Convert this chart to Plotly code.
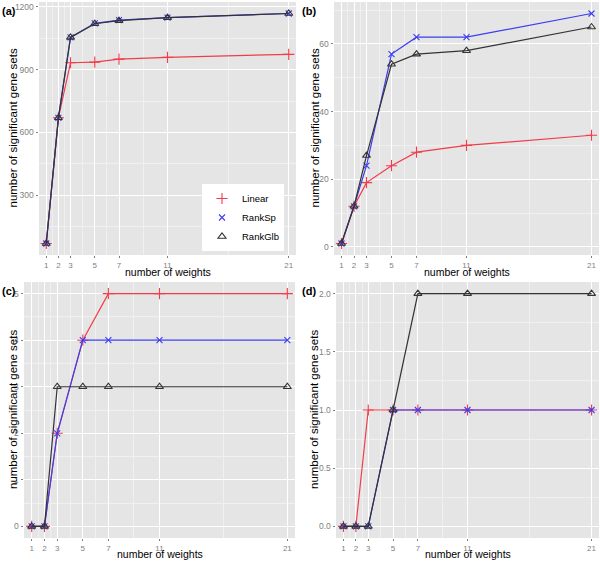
import plotly.graph_objects as go

# number of weights (x axis, shared by all panels)
weights = [1, 2, 3, 5, 7, 11, 21]

# panel (a)
a_linear = [70, 670, 933, 936, 950, 959, 973]
a_ranksp = [70, 670, 1054, 1121, 1136, 1148, 1168]
a_rankglb = [70, 670, 1054, 1119, 1134, 1148, 1168]
a_ticks = [300, 600, 900, 1200]

# panel (b)
b_linear = [1, 12, 19, 24, 28, 30, 33]
b_ranksp = [1, 12, 24, 57, 62, 62, 69]
b_rankglb = [1, 12, 27, 54, 57, 58, 65]
b_ticks = [0, 20, 40, 60]

# panel (c)
c_linear = [0, 0, 2, 4, 5, 5, 5]
c_ranksp = [0, 0, 2, 4, 4, 4, 4]
c_rankglb = [0, 0, 3, 3, 3, 3, 3]
c_ticks = [0, 1, 2, 3, 4, 5]

# panel (d)
d_linear = [0, 0, 1, 1, 1, 1, 1]
d_ranksp = [0, 0, 0, 1, 1, 1, 1]
d_rankglb = [0, 0, 0, 1, 2, 2, 2]
d_ticks = [0, 0.5, 1.0, 1.5, 2.0]

series_names = ["Linear", "RankSp", "RankGlb"]
panel_labels = ["(a)", "(b)", "(c)", "(d)"]

W, H = 600, 561
FONT = "Liberation Sans, Arial, Helvetica, sans-serif"
RED, BLUE, BLACK = "#F23C4A", "#3D3DF2", "#333333"
styles = [
    dict(color=RED, symbol="cross-thin-open", size=8),
    dict(color=BLUE, symbol="x-thin-open", size=6),
    dict(color=BLACK, symbol="triangle-up-open", size=7),
]


def xp(x):
    return min(max(x / W, 0), 1)


def yp(y):
    return min(max(1 - y / H, 0), 1)


panels = [
    dict(data=[a_linear, a_ranksp, a_rankglb], ticks=a_ticks, fmt="d",
         px=(39, 296), py=(2, 255), ytx=12),
    dict(data=[b_linear, b_ranksp, b_rankglb], ticks=b_ticks, fmt="d",
         px=(334, 599), py=(2, 255), ytx=314),
    dict(data=[c_linear, c_ranksp, c_rankglb], ticks=c_ticks, fmt="d",
         px=(24, 295), py=(282, 538), ytx=12),
    dict(data=[d_linear, d_ranksp, d_rankglb], ticks=d_ticks, fmt=".1f",
         px=(336, 599), py=(282, 538), ytx=313),
]


def minor_between(ticks, lo, hi):
    step = ticks[1] - ticks[0]
    vals = [t - step / 2 for t in ticks] + [ticks[-1] + step / 2]
    return [v for v in vals if lo <= v <= hi]


x_minor = [1.5, 2.5, 4, 6, 9, 16]

fig = go.Figure()
annotations = []
layout = {}

for i, p in enumerate(panels):
    n = "" if i == 0 else str(i + 1)
    for name, ys, st in zip(series_names, p["data"], styles):
        fig.add_trace(go.Scatter(
            x=weights, y=ys, mode="lines+markers", name=name, showlegend=False,
            line=dict(color=st["color"], width=1.2),
            marker=dict(symbol=st["symbol"], size=st["size"], color=st["color"],
                        line=dict(color=st["color"], width=1.1)),
            xaxis="x" + n, yaxis="y" + n,
        ))
    allv = [v for s in p["data"] for v in s]
    lo, hi = min(allv), max(allv)
    pad = (hi - lo) * 0.05
    yr = [lo - pad, hi + pad]
    x0, x1 = p["px"]
    y0, y1 = p["py"]
    layout["xaxis" + n] = dict(
        domain=[xp(x0), xp(x1)], anchor="y" + n, range=[0.4, 21.6],
        tickvals=weights, showgrid=True, gridcolor="white", gridwidth=1.1,
        zeroline=False, ticks="outside", ticklen=2, tickcolor="#808080",
        tickfont=dict(size=8, color="#7F7F7F", family=FONT),
        ticklabeloverflow="allow",
        minor=dict(tickvals=x_minor, showgrid=True, gridcolor="#F0F0F0",
                   gridwidth=0.6, ticks=""),
    )
    layout["yaxis" + n] = dict(
        domain=[yp(y1), yp(y0)], anchor="x" + n, range=yr,
        tickvals=p["ticks"], tickformat=p["fmt"], showgrid=True,
        gridcolor="white", gridwidth=1.1, zeroline=False, ticks="outside",
        ticklen=2.5, tickcolor="#808080",
        tickfont=dict(size=8.5, color="#7F7F7F", family=FONT),
        ticklabeloverflow="allow",
        minor=dict(tickvals=minor_between(p["ticks"], yr[0], yr[1]),
                   showgrid=True, gridcolor="#F0F0F0", gridwidth=0.6, ticks=""),
    )
    # axis titles and panel label
    annotations.append(dict(
        text="number of weights", xref="paper", yref="paper",
        x=xp((x0 + x1) / 2), y=yp(min(y1 + 24, H)), xanchor="center",
        yanchor="bottom", borderpad=0,
        showarrow=False, font=dict(size=10.5, color="black", family=FONT)))
    annotations.append(dict(
        text="number of significant gene sets", xref="paper", yref="paper",
        x=xp(p["ytx"] + 1), y=yp((y0 + y1) / 2), textangle=-90,
        xanchor="center", yanchor="middle",
        showarrow=False, font=dict(size=11.5, color="black", family=FONT)))
    annotations.append(dict(
        text="<b>" + panel_labels[i] + "</b>", xref="paper", yref="paper",
        x=xp(0 if i % 2 == 0 else 300), y=yp(y0 + 1),
        xanchor="left", yanchor="top", showarrow=False,
        font=dict(size=11, color="black", family=FONT)))

# legend entries show the symbols only
for name, st in zip(series_names, styles):
    fig.add_trace(go.Scatter(
        x=[None], y=[None], mode="markers", name=name,
        marker=dict(symbol=st["symbol"], size=st["size"], color=st["color"],
                    line=dict(color=st["color"], width=1.1)),
    ))

fig.update_layout(
    width=W, height=H,
    margin=dict(l=0, r=0, t=0, b=0),
    paper_bgcolor="white", plot_bgcolor="#E5E5E5",
    font=dict(family=FONT),
    annotations=annotations,
    showlegend=True,
    legend=dict(x=xp(284), y=yp(251), xanchor="right", yanchor="bottom",
                bgcolor="white", font=dict(size=9.5, color="black", family=FONT),
                itemwidth=30, tracegroupgap=0),
    **layout,
)

# the default page body has an 8px margin; drop it so the figure sits at 0,0
fig.write_html("out.html", config={"displayModeBar": False},
               post_script="document.body.style.margin='0';")
